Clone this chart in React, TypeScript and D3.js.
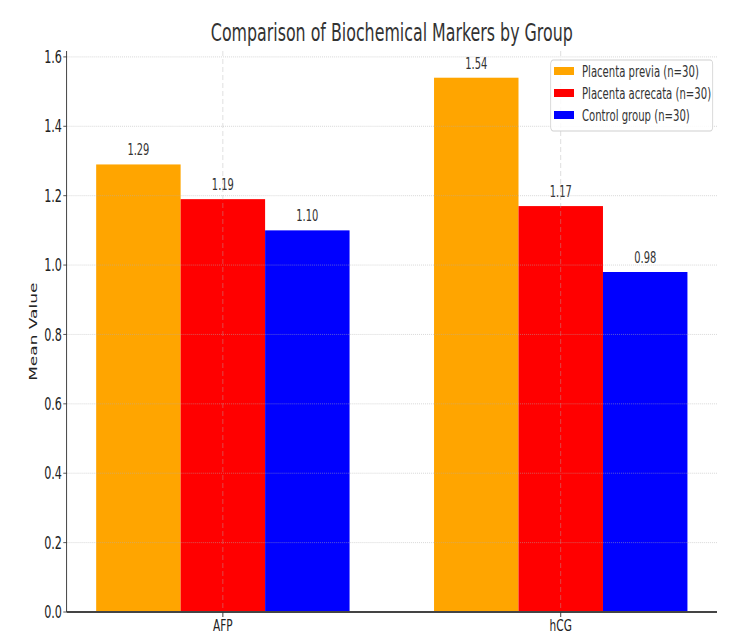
import * as d3 from "d3"

const categories = ["AFP", "hCG"]
const groups = ["Placenta previa (n=30)", "Placenta acrecata (n=30)", "Control group (n=30)"]
const previaValues = [1.29, 1.54]
const acrecataValues = [1.19, 1.17]
const controlValues = [1.1, 0.98]
const groupColors = ["#FFA500", "#FF0000", "#0000FF"]
const yTicks = [0, 0.2, 0.4, 0.6, 0.8, 1.0, 1.2, 1.4, 1.6]

const series = [previaValues, acrecataValues, controlValues]

// the reference is squeezed horizontally, so everything is drawn in a wider
// virtual space and scaled back down on x
const SX = 0.66
const W = 741
const H = 641
const BAR_W = 0.25

const left = 66.6 / SX
const right = 717 / SX
const top = 51
const bottom = 612

export default function App() {
  const x = d3.scaleLinear().domain([-0.4625, 1.4625]).range([left, right])
  const y = d3.scaleLinear().domain([0, 1.617]).range([bottom, top])
  const font = "'DejaVu Sans', sans-serif"
  const textColor = "#333333"

  return (
    <svg
      width={W}
      height={H}
      style={{ position: "fixed", left: 0, top: 0, background: "#fff" }}
      fontFamily={font}
    >
      <rect width={W} height={H} fill="#fff" />
      <g transform={`scale(${SX},1)`}>
        {/* title */}
        <text x={(left + right) / 2} y={41} textAnchor="middle" fontSize={24} fill={textColor}>
          Comparison of Biochemical Markers by Group
        </text>

        {/* bars */}
        {categories.map((cat, i) =>
          series.map((vals, j) => {
            const cx = i + (j - 1) * BAR_W
            const x0 = x(cx - BAR_W / 2)
            const x1 = x(cx + BAR_W / 2)
            return (
              <g key={`${cat}-${j}`}>
                <rect
                  x={x0}
                  y={y(vals[i])}
                  width={x1 - x0}
                  height={bottom - y(vals[i])}
                  fill={groupColors[j]}
                />
                <text
                  x={(x0 + x1) / 2}
                  y={y(vals[i]) - 9}
                  textAnchor="middle"
                  fontSize={15}
                  fill={textColor}
                >
                  {vals[i].toFixed(2)}
                </text>
              </g>
            )
          })
        )}

        {/* grid on top of bars */}
        {yTicks.map((t) => (
          <line
            key={`gy${t}`}
            x1={left}
            x2={right}
            y1={y(t)}
            y2={y(t)}
            stroke="#b0b0b0"
            strokeOpacity={0.6}
            strokeWidth={1}
            strokeDasharray="1.5,1.5"
          />
        ))}
        {categories.map((c, i) => (
          <line
            key={`gx${c}`}
            x1={x(i)}
            x2={x(i)}
            y1={top}
            y2={bottom}
            stroke="#b0b0b0"
            strokeOpacity={0.5}
            strokeWidth={1.2}
            strokeDasharray="5,3"
          />
        ))}

        {/* y axis */}
        <line x1={left} x2={left} y1={top} y2={bottom} stroke="#333" strokeWidth={1.4} />
        {yTicks.map((t) => (
          <g key={`ty${t}`}>
            <line x1={left - 5} x2={left} y1={y(t)} y2={y(t)} stroke="#333" strokeWidth={1} />
            <text
              x={left - 7}
              y={y(t)}
              dy="0.36em"
              textAnchor="end"
              fontSize={17}
              fill="#222"
            >
              {t.toFixed(1)}
            </text>
          </g>
        ))}
        <text
          transform={`translate(${32.8 / SX},${331.7}) rotate(-90)`}
          textAnchor="middle"
          dy="0.36em"
          fontSize={17}
          fill="#222"
        >
          Mean Value
        </text>

        {/* x axis */}
        <line x1={left} x2={right} y1={bottom} y2={bottom} stroke="#444" strokeWidth={2} />
        {categories.map((c, i) => (
          <g key={`tx${c}`}>
            <line x1={x(i)} x2={x(i)} y1={bottom} y2={bottom + 5} stroke="#333" strokeWidth={1.4} />
            <text x={x(i)} y={631} textAnchor="middle" fontSize={16} fill="#222">
              {c}
            </text>
          </g>
        ))}

        {/* legend */}
        <g transform={`translate(${550.7 / SX},60)`}>
          <rect
            width={(712.7 - 550.7) / SX}
            height={71}
            rx={4}
            fill="#fff"
            fillOpacity={0.85}
            stroke="#d0d0d0"
            strokeWidth={1.2}
          />
          {groups.map((g, j) => (
            <g key={g} transform={`translate(0,${11 + j * 22})`}>
              <rect x={(554 - 550.7) / SX} y={-4} width={20 / SX} height={8} fill={groupColors[j]} />
              <text x={(582 - 550.7) / SX} y={0} dy="0.36em" fontSize={15.3} fill={textColor}>
                {g}
              </text>
            </g>
          ))}
        </g>
      </g>
    </svg>
  )
}
